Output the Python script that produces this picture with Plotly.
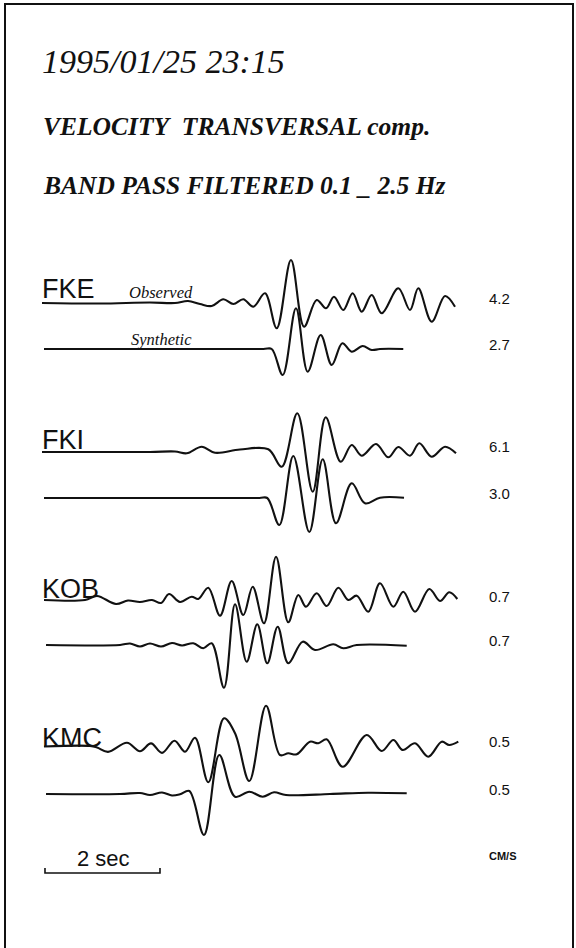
import plotly.graph_objects as go

W, H = 576, 948
PX_PER_SEC = 57.5          # horizontal scale (2 sec bar = 115 px)
T0_PX = 42                 # left start of the traces

# ---------------- data (time in s, relative amplitude, + = up) ----------------
stations = ["FKE", "FKI", "KOB", "KMC"]
obs_peak = ["4.2", "6.1", "0.7", "0.5"]
syn_peak = ["2.7", "3.0", "0.7", "0.5"]

fke_obs_t = [0, 1.009, 1.878, 2.313, 2.539, 2.748, 2.951, 3.153, 3.327, 3.501, 3.675, 3.878, 4.082,
             4.330, 4.557, 4.777, 4.939, 5.078, 5.240, 5.403, 5.560, 5.734, 5.908, 6.197, 6.400,
             6.544, 6.777, 7.009, 7.183]
fke_obs_a = [0, -0.5, 0.5, 0, 2, -1, -3, 3.7, -1, 3.7, -3.7, 9.7, -25.3,
             43, -23.7, 3, -5.3, 6.3, -7, 9.7, -8.7, 8, -10.3, 14.7, -7,
             14.7, -18.7, 7, -3.7]
fke_syn_t = [0.035, 1.878, 3.850, 3.995, 4.186, 4.417, 4.621, 4.847, 5.038, 5.223, 5.386, 5.577, 5.734,
             5.878, 6.283]
fke_syn_a = [0, 0, 0, 0, -26, 40.7, -22.7, 14, -16, 5.7, -2.7, 3, -1, 0, 0]

fki_obs_t = [0, 1.878, 2.313, 2.517, 2.777, 3.009, 3.443, 3.936, 4.169, 4.440, 4.708, 4.934, 5.195,
             5.386, 5.560, 5.809, 6.023, 6.197, 6.400, 6.562, 6.777, 7.009, 7.200]
fki_obs_a = [-1, -1, -0.5, -2.3, 4.3, -1.7, 1.5, 1.7, -15.7, 37.7, -40.7, 33.7, -10.7,
             6, -4.7, 7, -6.3, 4, -4.7, 7.7, -5.7, 4.3, -2.3]
fki_syn_t = [0.035, 1.878, 3.780, 3.918, 4.127, 4.370, 4.649, 4.882, 5.113, 5.386, 5.617, 5.878, 6.296]
fki_syn_a = [0, 0, 0, 0, -27, 42, -34, 38.7, -25.3, 14.7, -5.3, 0.3, 0.3]

kob_obs_t = [0.035, 0.748, 0.957, 1.287, 1.496, 1.704, 1.913, 2.070, 2.209, 2.400, 2.603, 2.718,
             2.892, 3.096, 3.299, 3.501, 3.664, 3.861, 4.070, 4.283, 4.457, 4.591, 4.777, 4.951,
             5.153, 5.327, 5.473, 5.675, 5.878, 6.110, 6.283, 6.487, 6.736, 6.922, 7.083, 7.223]
kob_obs_a = [1, 1, 5, -3, 0.5, -1, 1, -2, 7, -1, 4.3, 2,
             13.3, -14.7, 20, -14, 14.3, -22.3, 44.3, -21.3, 6, -5.7, 7.7, -5,
             13.3, 1, 5.3, -10.7, 17.7, -5.7, 9.3, -10.7, 12, 0, 8.7, 2]
kob_syn_t = [0.070, 1.357, 1.530, 1.704, 1.878, 2.070, 2.261, 2.435, 2.631, 2.805, 2.951, 3.165,
             3.357, 3.560, 3.744, 3.918, 4.099, 4.283, 4.534, 4.748, 5.066, 5.240, 5.473, 6.343]
kob_syn_a = [0, 0, 1.5, -1.5, 1.5, -1.5, 2, -0.5, 1.7, -3.3, 1.7, -42.7,
             40.7, -16.7, 20.7, -18.3, 18.3, -18.3, 3.3, -5, 0.7, -3.3, 0, -0.7]

kmc_obs_t = [0.035, 0.835, 0.957, 1.148, 1.478, 1.704, 1.896, 2.087, 2.304, 2.487, 2.661, 2.892,
             3.165, 3.357, 3.605, 3.896, 4.139, 4.283, 4.430, 4.661, 4.805, 4.951, 5.230, 5.647,
             5.908, 6.110, 6.273, 6.487, 6.718, 6.951, 7.083, 7.240]
kmc_obs_a = [-0.5, 0, -1.5, -5.9, 3.2, -5.2, 2.6, -6.9, 5.3, -5.7, 8.3, -36.3,
             27.7, 12.7, -35, 40.3, -9, -7.3, -8.3, 4.3, 2.7, 6.7, -20.7, 11,
             -5, 6, -4, 2.7, -10.7, 4.3, 1, 4.3]
kmc_syn_t = [0.070, 1.357, 1.704, 1.878, 2.087, 2.261, 2.400, 2.562, 2.817, 3.083, 3.357, 3.605,
             3.838, 4.035, 4.243, 5.009, 5.670, 6.343]
kmc_syn_a = [0, 0, 1, -1, 1.5, -1.5, -0.3, 3, -41, 39, -2.7, 2.3,
             -2.7, 1.7, -1, 0, 1.3, 0.7]

scale_bar_sec = 2

# ---------------- layout constants ----------------
obs_base = [303, 451, 601, 746]   # baseline pixel row of observed traces
syn_base = [349, 498, 645, 794]   # baseline pixel row of synthetic traces
INK = "#111111"

obs_series = [(fke_obs_t, fke_obs_a), (fki_obs_t, fki_obs_a), (kob_obs_t, kob_obs_a), (kmc_obs_t, kmc_obs_a)]
syn_series = [(fke_syn_t, fke_syn_a), (fki_syn_t, fki_syn_a), (kob_syn_t, kob_syn_a), (kmc_syn_t, kmc_syn_a)]

fig = go.Figure()

for i in range(4):
    for (t, a), base, kind in ((obs_series[i], obs_base[i], "Observed"), (syn_series[i], syn_base[i], "Synthetic")):
        fig.add_trace(go.Scatter(
            x=t, y=[base - v for v in a], mode="lines",
            line=dict(color=INK, width=2.1, shape="spline", smoothing=1.0),
            name=f"{stations[i]} {kind}", hoverinfo="skip", showlegend=False))


def px(x):
    return x / W


def py(y):
    return 1 - y / H


ann = []
SERIF = "Liberation Serif, Times New Roman, serif"
SANS = "Liberation Sans, Arial, sans-serif"

ann.append(dict(text="<i>1995/01/25 23:15</i>", x=px(40), y=py(62), font=dict(family=SERIF, size=34, color=INK)))
ann.append(dict(text="<b><i>VELOCITY\u00a0\u00a0TRANSVERSAL comp.</i></b>", x=px(41), y=py(126),
                font=dict(family=SERIF, size=25.5, color=INK)))
ann.append(dict(text="<b><i>BAND PASS FILTERED 0.1 _ 2.5 Hz</i></b>", x=px(41), y=py(186),
                font=dict(family=SERIF, size=25.5, color=INK)))

label_y = [289, 440, 589, 738]
for i, s in enumerate(stations):
    ann.append(dict(text=s, x=px(40), y=py(label_y[i]), font=dict(family=SANS, size=27, color=INK)))
    ann.append(dict(text=obs_peak[i], x=px(487), y=py(obs_base[i] - 5), font=dict(family=SANS, size=15, color=INK)))
    ann.append(dict(text=syn_peak[i], x=px(487), y=py(syn_base[i] - 5), font=dict(family=SANS, size=15, color=INK)))

ann.append(dict(text="<i>Observed</i>", x=px(127), y=py(292), font=dict(family=SERIF, size=16.5, color=INK)))
ann.append(dict(text="<i>Synthetic</i>", x=px(129), y=py(339), font=dict(family=SERIF, size=16.5, color=INK)))
ann.append(dict(text="<b>CM/S</b>", x=px(487), y=py(856),
                font=dict(family="Liberation Sans Narrow, Liberation Sans, Arial", size=11, color=INK)))
ann.append(dict(text=f"{scale_bar_sec} sec", x=px(103), y=py(858), xanchor="center",
                font=dict(family=SANS, size=22, color=INK)))

for a in ann:
    a.setdefault("xanchor", "left")
    a.update(xref="paper", yref="paper", yanchor="middle", showarrow=False)

shapes = [
    # frame (open at the bottom)
    dict(type="path", xref="paper", yref="paper",
         path=f"M {px(5)},{py(H + 5)} L {px(5)},{py(4)} L {px(573)},{py(4)} L {px(573)},{py(H + 5)}",
         line=dict(color=INK, width=2)),
    # 2 sec scale bar, drawn in time units
    dict(type="path", xref="x", yref="y",
         path=f"M 0.052,868 L 0.052,873 L {0.052 + scale_bar_sec},873 L {0.052 + scale_bar_sec},868",
         line=dict(color=INK, width=1.6)),
]

fig.update_layout(
    width=W, height=H, margin=dict(l=0, r=0, t=0, b=0),
    paper_bgcolor="white", plot_bgcolor="white",
    xaxis=dict(range=[-T0_PX / PX_PER_SEC, (W - T0_PX) / PX_PER_SEC], visible=False, fixedrange=True),
    yaxis=dict(range=[H, 0], visible=False, fixedrange=True),
    annotations=ann, shapes=shapes, showlegend=False,
)

fig.write_html("out.html", config={"displayModeBar": False},
               post_script="document.body.style.margin='0';document.body.style.overflow='hidden';")
